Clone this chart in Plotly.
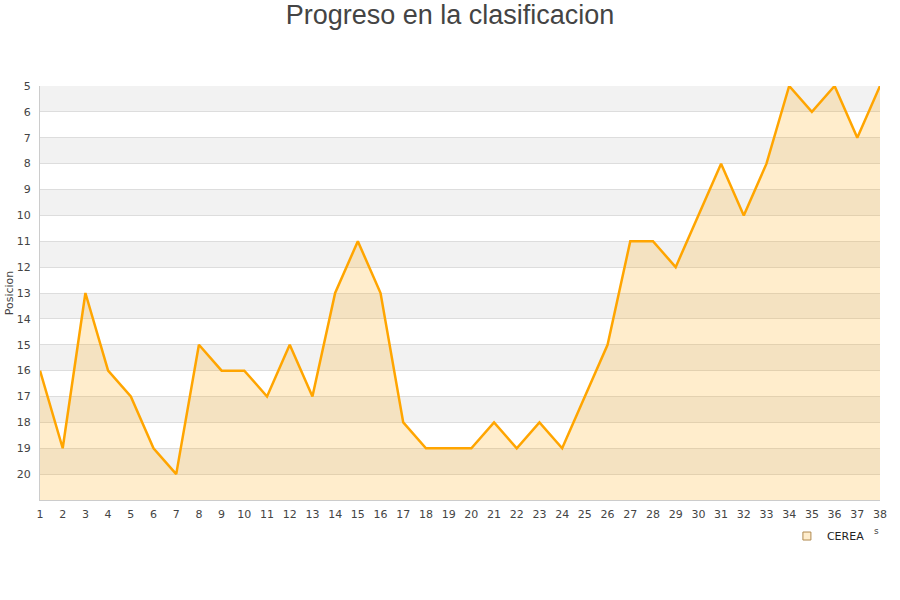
import plotly.graph_objects as go

jornadas = list(range(1, 39))
posiciones = [16, 19, 13, 16, 17, 19, 20, 15, 16, 16, 17, 15, 17, 13, 11, 13, 18, 19, 19, 19,
              18, 19, 18, 19, 17, 15, 11, 11, 12, 10, 8, 10, 8, 5, 6, 5, 7, 5]
y_ticks = list(range(5, 21))
equipo = "CEREA"
titulo = "Progreso en la clasificacion"
y_titulo = "Posicion"

fondo = 21
fig = go.Figure()

# baseline for area fill
fig.add_trace(go.Scatter(x=jornadas, y=[fondo] * len(jornadas), mode="lines",
                         line=dict(width=0), showlegend=False, hoverinfo="skip"))
fig.add_trace(go.Scatter(x=jornadas, y=posiciones, mode="lines", fill="tonexty",
                         fillcolor="rgba(255,165,0,0.2)",
                         line=dict(color="#ffa500", width=2.5), showlegend=False, name=equipo))
# legend entry
fig.add_trace(go.Scatter(x=[None], y=[None], mode="markers", name=equipo,
                         marker=dict(symbol="square", size=8, color="#ffedcc",
                                     line=dict(color="#b08a50", width=1))))

shapes = []
for k in range(5, 21, 2):
    shapes.append(dict(type="rect", xref="paper", yref="y", x0=0, x1=1, y0=k, y1=k + 1,
                       fillcolor="#f2f2f2", line=dict(width=0), layer="below"))

fig.update_layout(
    width=900, height=600,
    paper_bgcolor="white", plot_bgcolor="white",
    margin=dict(l=40, r=20, t=86, b=100, autoexpand=False),
    title=dict(text=titulo, x=0.5, xanchor="center", y=0.975, yanchor="middle",
               font=dict(family="Liberation Sans, Arial", size=27, color="#444")),
    font=dict(family="DejaVu Sans", size=11, color="#444"),
    shapes=shapes,
    showlegend=True,
    legend=dict(orientation="h", x=0.988, xanchor="right", y=-0.052, yanchor="top",
                font=dict(family="DejaVu Sans", size=11, color="#222"),
                bgcolor="rgba(0,0,0,0)"),
    annotations=[dict(text="s", xref="paper", yref="paper", x=1.001, y=-0.092,
                      showarrow=False, font=dict(size=9, color="#444"))],
)
fig.update_xaxes(range=[1, 38], tickmode="array", tickvals=jornadas,
                 ticktext=[str(j) for j in jornadas], showgrid=False, zeroline=False,
                 showline=True, linecolor="#cccccc", linewidth=1, ticks="",
                 ticklabelstandoff=4,
                 automargin=False, tickfont=dict(size=11, color="#444"))
fig.update_yaxes(range=[21, 5], tickmode="array", tickvals=y_ticks,
                 ticktext=[str(v) for v in y_ticks], showgrid=True, gridcolor="#dddddd",
                 gridwidth=1, zeroline=False, showline=True, linecolor="#cccccc",
                 linewidth=1, ticks="", automargin=False, ticklabelstandoff=6,
                 tickfont=dict(size=11, color="#444"),
                 title=dict(text=y_titulo, font=dict(size=11, color="#444"), standoff=0))

fig.write_html("out.html", post_script="document.body.style.margin='0';",
               config={"displayModeBar": False})
